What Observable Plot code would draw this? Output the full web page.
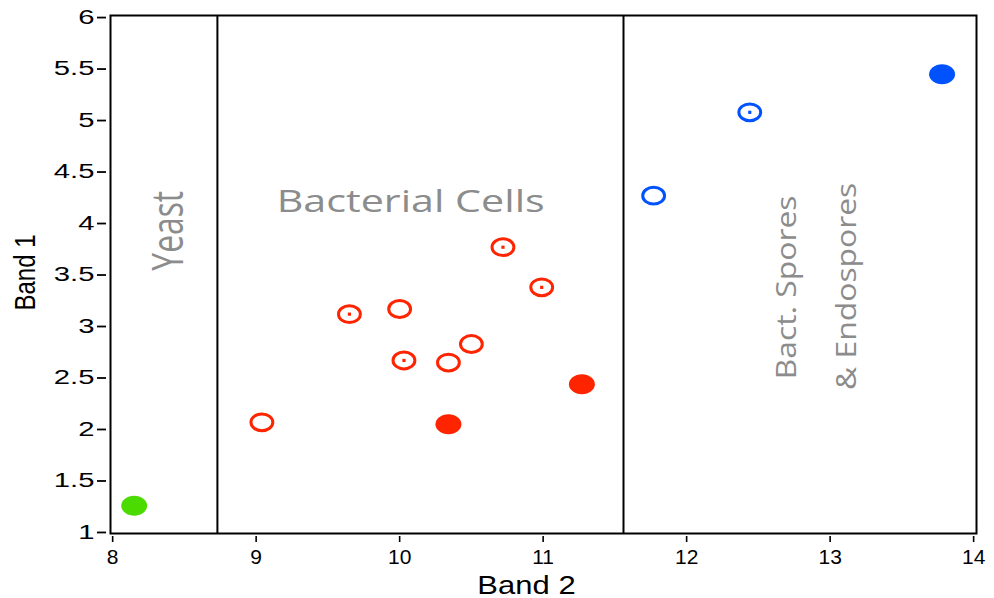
<!DOCTYPE html>
<html>
<head>
<meta charset="utf-8">
<script src="https://cdn.jsdelivr.net/npm/d3@7"></script>
<script src="https://cdn.jsdelivr.net/npm/@observablehq/plot@0.6"></script>
<style>
  html, body { margin: 0; padding: 0; background: #fff; }
  #chart svg { display: block; }
</style>
</head>
<body>
<div id="chart"></div>
<script>
// ---- data ----
const band2 = [8.15, 9.04, 10.34, 9.65, 10.00, 10.03, 10.34, 10.50, 10.72, 10.99, 11.27, 11.77, 12.44, 13.78];
const band1 = [1.26, 2.07, 2.05, 3.12, 3.17, 2.67, 2.65, 2.83, 3.77, 3.38, 2.44, 4.27, 5.08, 5.45];
const organism = ["Yeast", "Bacteria", "Bacteria", "Bacteria", "Bacteria", "Bacteria", "Bacteria",
                  "Bacteria", "Bacteria", "Bacteria", "Bacteria", "Spores", "Spores", "Spores"];
const marker = ["filled", "open", "filled", "dotted", "open", "dotted", "open",
                "open", "dotted", "dotted", "filled", "open", "dotted", "filled"];
const boundaries = [8.73, 11.56];
const regionLabels = ["Yeast", "Bacterial Cells", "Bact. Spores", "& Endospores"];
const regionX = [8.394, 10.077, 12.70, 13.12];
const regionY = [3.93, 4.21, 3.38, 3.39];
const xTicks = [8, 9, 10, 11, 12, 13, 14];
const yTicks = [1, 1.5, 2, 2.5, 3, 3.5, 4, 4.5, 5, 5.5, 6];
const organisms = ["Yeast", "Bacteria", "Spores"];
const organismColors = ["#4cdb00", "#ff2400", "#0052ff"];

const points = band2.map((x, i) => ({x, y: band1[i], organism: organism[i], marker: marker[i]}));
const labels = regionLabels.map((t, i) => ({text: t, x: regionX[i], y: regionY[i]}));

// ellipse symbol (slightly wider than tall, like the reference markers)
const ellipse = {
  draw(ctx, size) {
    const r = Math.sqrt(size / Math.PI), rx = r * 1.3, ry = r, k = 0.5523;
    ctx.moveTo(rx, 0);
    ctx.bezierCurveTo(rx, k * ry, k * rx, ry, 0, ry);
    ctx.bezierCurveTo(-k * rx, ry, -rx, k * ry, -rx, 0);
    ctx.bezierCurveTo(-rx, -k * ry, -k * rx, -ry, 0, -ry);
    ctx.bezierCurveTo(k * rx, -ry, rx, -k * ry, rx, 0);
    ctx.closePath();
  }
};

const gray = "#8c8c8c";
const labelFont = "Open Sans, Noto Sans, sans-serif";

const chart = Plot.plot({
  width: 994,
  height: 598,
  marginLeft: 110,
  marginRight: 18,
  marginTop: 15,
  marginBottom: 65,
  style: {fontFamily: "Liberation Sans, Arial, sans-serif", background: "#fff", color: "#000"},
  x: {domain: [7.985, 14.02], label: null},
  y: {domain: [0.99, 6.02], label: null},
  color: {domain: organisms, range: organismColors},
  marks: [
    Plot.ruleX(boundaries, {stroke: "#000", strokeWidth: 2}),
    Plot.frame({stroke: "#000", strokeWidth: 2}),
    Plot.axisX({ticks: xTicks, tickSize: 6, tickPadding: 7, dy: 3, fontSize: 21, strokeWidth: 1.6, tickFormat: d => String(d)}),
    Plot.axisY({ticks: yTicks, tickSize: 9, tickPadding: 3, dx: -4, fontSize: 19.5, strokeWidth: 1.8, tickFormat: d => String(d)}),
    Plot.text(["Band 1"], {frameAnchor: "left", textAnchor: "middle", lineAnchor: "middle", dx: -85, dy: -2, rotate: -90, fontSize: 30, fill: "#000"}),
    Plot.text(["Band 2"], {frameAnchor: "bottom", textAnchor: "middle", lineAnchor: "middle", dx: -17, dy: 52, fontSize: 25, fill: "#000"}),
    Plot.dot(points.filter(d => d.marker === "filled"), {x: "x", y: "y", fill: "organism", r: 10, symbol: ellipse}),
    Plot.dot(points.filter(d => d.marker !== "filled"), {x: "x", y: "y", stroke: "organism", r: 8.4, strokeWidth: 3, fill: "none", symbol: ellipse}),
    Plot.dot(points.filter(d => d.marker === "dotted"), {x: "x", y: "y", fill: "organism", r: 1.8, symbol: "square"}),
    Plot.text(labels.slice(0, 1), {x: "x", y: "y", text: "text", rotate: -90, fontSize: 43, fill: gray, fontFamily: labelFont}),
    Plot.text(labels.slice(1, 2), {x: "x", y: "y", text: "text", fontSize: 31, fill: gray, fontFamily: labelFont}),
    Plot.text(labels.slice(2), {x: "x", y: "y", text: "text", rotate: -90, fontSize: 27, fill: gray, fontFamily: labelFont})
  ]
});

document.getElementById("chart").appendChild(chart);

// stretch glyphs along the text direction to match the reference's lettering
function stretch(match, sx) {
  chart.querySelectorAll("text").forEach(t => {
    if (!match(t)) return;
    const tr = t.getAttribute("transform") || "";
    t.setAttribute("transform", tr + ` scale(${sx},1)`);
  });
}
const yTickStrings = new Set(yTicks.map(String));
stretch(t => { const g = t.closest("g"); return g && (g.getAttribute("aria-label") || "").startsWith("y-axis") && yTickStrings.has(t.textContent); }, 1.5);
stretch(t => t.textContent === "Band 1", 0.8);
stretch(t => t.textContent === "Band 2", 1.24);
stretch(t => t.textContent === "Yeast", 0.74);
stretch(t => t.textContent === "Bacterial Cells", 1.33);
stretch(t => t.textContent === "Bact. Spores" || t.textContent === "& Endospores", 1.18);
</script>
</body>
</html>
